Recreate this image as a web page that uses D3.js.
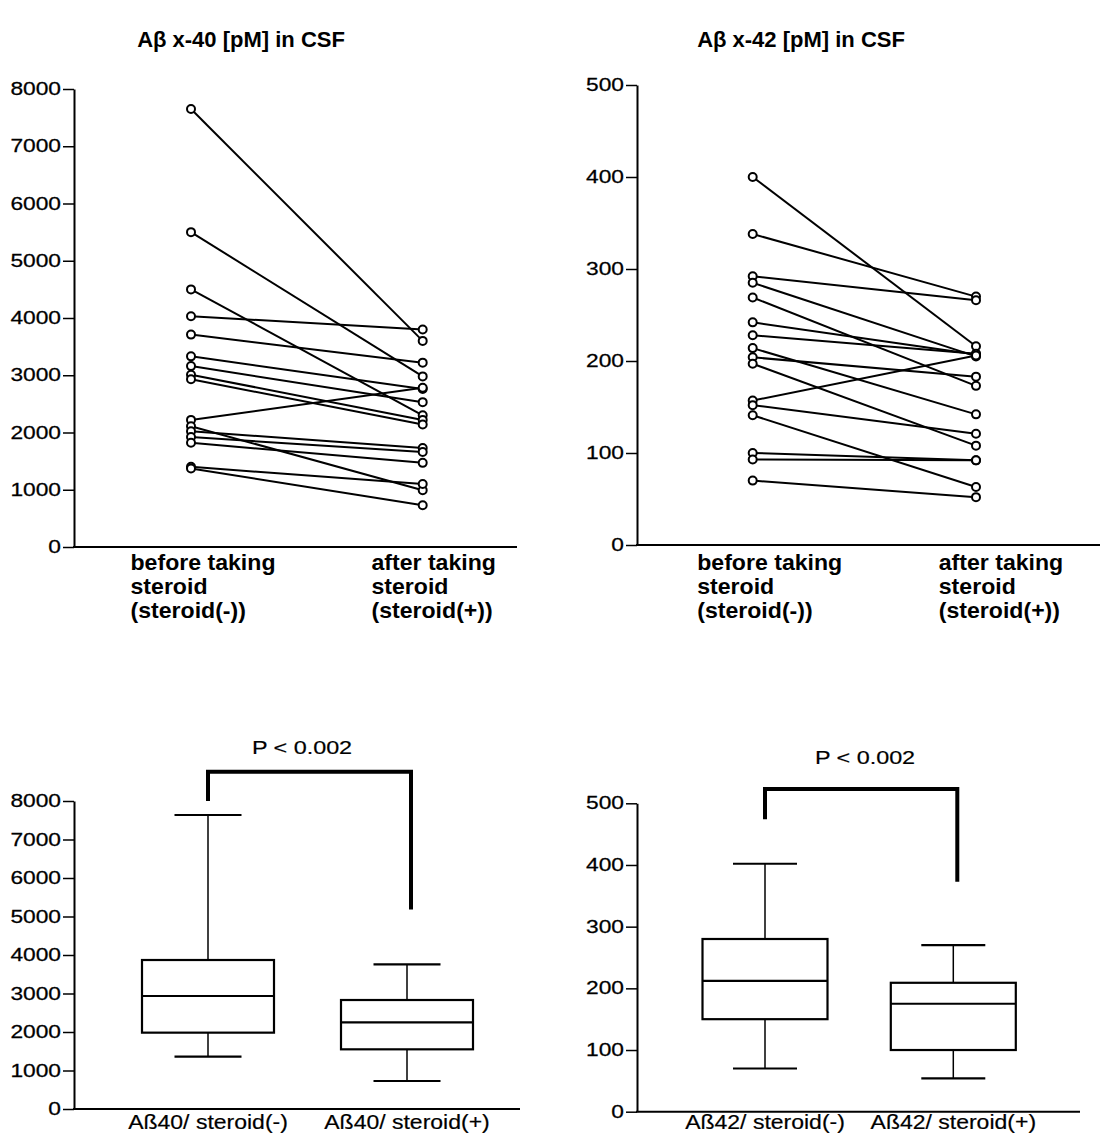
<!DOCTYPE html>
<html><head><meta charset="utf-8">
<script src="https://cdn.jsdelivr.net/npm/d3@7"></script>
<style>
body{margin:0;background:#fff}
svg{display:block}
text{font-family:"Liberation Sans",Arial,Helvetica,sans-serif;fill:#000}
</style>
</head><body>
<svg id="c" width="1108" height="1141"></svg>
<script>
// ---------- data ----------
const pairCategories = ["before", "after"];
const pairLabels = [["before taking", "steroid", "(steroid(-))"], ["after taking", "steroid", "(steroid(+))"]];
const titles = ["Aβ x-40 [pM] in CSF", "Aβ x-42 [pM] in CSF"];

const ab40Before = [7650, 5500, 4500, 4030, 3710, 3330, 3160, 3010, 2930, 2220, 2110, 2020, 1920, 1820, 1400, 1370];
const ab40After  = [3600, 2980, 2300, 3800, 3220, 2760, 2530, 2220, 2140, 2780,  990, 1730, 1660, 1470, 1100,  730];
const ab42Before = [400, 338, 292, 285, 269, 242, 228, 214, 204, 197, 157, 152, 141, 100, 93, 70];
const ab42After  = [216, 270, 266, 205, 173, 207, 208, 142, 183, 108, 206, 121,  63,  92, 92, 52];

const ticks40 = [0, 1000, 2000, 3000, 4000, 5000, 6000, 7000, 8000];
const ticks42 = [0, 100, 200, 300, 400, 500];

const boxLabels40 = ["Aß40/ steroid(-)", "Aß40/ steroid(+)"];
const boxLabels42 = ["Aß42/ steroid(-)", "Aß42/ steroid(+)"];
// [min, q1, median, q3, max]
const box40Stats = [[1360, 1983, 2935, 3870, 7636], [727, 1550, 2251, 2831, 3758]];
const box42Stats = [[70, 150, 212, 280, 402], [54, 100, 175, 209, 270]];
const pLabel = "P < 0.002";
// [left leg end, bracket top, right leg end]
const bracket40 = [8000, 8760, 5180];
const bracket42 = [474, 523, 373];

// ---------- drawing ----------
const svg = d3.select("#c");

function stext(g, x, y, str, size, sx, anchor, weight) {
  return g.append("text")
    .attr("transform", `translate(${x},${y}) scale(${sx},1)`)
    .attr("text-anchor", anchor || "start")
    .attr("font-size", size)
    .attr("font-weight", weight || "normal")
    .text(str);
}

function drawAxes(cfg, ticks) {
  const y = d3.scaleLinear().domain([0, ticks[ticks.length - 1]]).range(cfg.yRange);
  const ax = svg.append("g").attr("transform", `translate(${cfg.axisX},0)`)
    .call(d3.axisLeft(y).tickValues(ticks).tickSize(11).tickSizeOuter(0).tickFormat(d3.format("d")));
  ax.select(".domain").attr("stroke", "#000").attr("stroke-width", 2);
  ax.selectAll(".tick line").attr("stroke", "#000").attr("stroke-width", 1.5);
  ax.selectAll(".tick text")
    .attr("x", null)
    .attr("transform", "translate(-13,0) scale(1.3,1)")
    .attr("font-size", 17.5)
    .attr("font-family", '"Liberation Sans",Arial,sans-serif')
    .attr("fill", "#000")
    .attr("stroke", "#000").attr("stroke-width", 0.25);
  ax.attr("font-family", null).attr("font-size", null);
  svg.append("line")
    .attr("x1", cfg.axisX - 1).attr("x2", cfg.xEnd)
    .attr("y1", y(0)).attr("y2", y(0))
    .attr("stroke", "#000").attr("stroke-width", 2);
  return y;
}

function pairPanel(cfg, before, after, ticks, title) {
  const y = drawAxes(cfg, ticks);
  const x = d3.scalePoint().domain(pairCategories).range(cfg.catRange);
  const g = svg.append("g");
  const pairs = before.map((b, i) => [b, after[i]]);
  const line = d3.line().x((d, i) => x(pairCategories[i])).y(d => y(d));
  g.selectAll("path.pair").data(pairs).join("path")
    .attr("class", "pair")
    .attr("d", d => line(d))
    .attr("fill", "none").attr("stroke", "#000").attr("stroke-width", 2);
  pairs.forEach(p => {
    p.forEach((v, i) => {
      g.append("circle")
        .attr("cx", x(pairCategories[i])).attr("cy", y(v)).attr("r", 4)
        .attr("fill", "#fff").attr("stroke", "#000").attr("stroke-width", 2);
    });
  });
  // title
  stext(svg, cfg.titleX, 47, title, 22, 1, "middle", "bold");
  // category labels (left-aligned block, centered at cat + dx)
  pairCategories.forEach((c, i) => {
    const lab = svg.append("g");
    const texts = pairLabels[i].map((s, k) => stext(lab, 0, 570 + k * 24, s, 22, 1.05, "start", "bold"));
    const w = d3.max(texts, t => t.node().getComputedTextLength()) * 1.05;
    const left = x(c) + cfg.labelDx[i] - w / 2;
    lab.attr("transform", `translate(${left},0)`);
  });
}

function boxPanel(cfg, stats, labels, ticks, bracket) {
  const y = drawAxes(cfg, ticks);
  const x = d3.scalePoint().domain(labels).range(cfg.catRange);
  const g = svg.append("g").attr("stroke", "#000").attr("fill", "none");
  stats.forEach((s, i) => {
    const cx = x(labels[i]);
    const [mn, q1, md, q3, mx] = s;
    g.append("line").attr("x1", cx).attr("x2", cx).attr("y1", y(mn)).attr("y2", y(q1)).attr("stroke-width", 1.5);
    g.append("line").attr("x1", cx).attr("x2", cx).attr("y1", y(q3)).attr("y2", y(mx)).attr("stroke-width", 1.5);
    [mn, mx].forEach(v => g.append("line")
      .attr("x1", cx - cfg.capW / 2).attr("x2", cx + cfg.capW / 2)
      .attr("y1", y(v)).attr("y2", y(v)).attr("stroke-width", 2.2));
    g.append("rect").attr("x", cx - cfg.boxW / 2).attr("width", cfg.boxW)
      .attr("y", y(q3)).attr("height", y(q1) - y(q3)).attr("stroke-width", 2.2).attr("fill", "#fff");
    g.append("line").attr("x1", cx - cfg.boxW / 2).attr("x2", cx + cfg.boxW / 2)
      .attr("y1", y(md)).attr("y2", y(md)).attr("stroke-width", 2.2);
    stext(svg, cx, cfg.labelY, labels[i], 20, 1.15, "middle").attr("stroke", "#000").attr("stroke-width", 0.2);
  });
  const xl = x(labels[0]), xr = x(labels[1]) + 4;
  g.append("path")
    .attr("d", `M${xl},${y(bracket[0])}V${y(bracket[1])}H${xr}V${y(bracket[2])}`)
    .attr("stroke-width", 4).attr("stroke-linecap", "butt").attr("stroke-linejoin", "miter");
  stext(svg, cfg.pX, cfg.pY, pLabel, 19, 1.23, "middle").attr("stroke", "#000").attr("stroke-width", 0.2);
}

pairPanel({yRange: [547, 89], axisX: 74, xEnd: 517, catRange: [191, 422.7], titleX: 241, labelDx: [12, 11]},
  ab40Before, ab40After, ticks40, titles[0]);
pairPanel({yRange: [545, 85], axisX: 637, xEnd: 1100, catRange: [752.7, 976], titleX: 801, labelDx: [17, 25]},
  ab42Before, ab42After, ticks42, titles[1]);
boxPanel({yRange: [1109, 801], axisX: 74, xEnd: 520, catRange: [208, 407], boxW: 132, capW: 67, labelY: 1129, pX: 302, pY: 754},
  box40Stats, boxLabels40, ticks40, bracket40);
boxPanel({yRange: [1111.7, 803.3], axisX: 637, xEnd: 1080, catRange: [765, 953.3], boxW: 125, capW: 64, labelY: 1129, pX: 865, pY: 764},
  box42Stats, boxLabels42, ticks42, bracket42);
</script>
</body></html>
